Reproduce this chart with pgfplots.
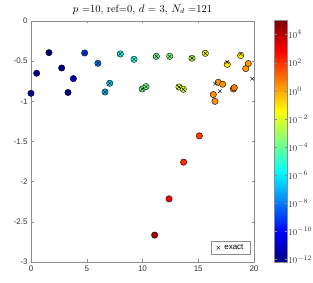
\documentclass[border=0pt]{standalone}
\usepackage{fontspec}
\usepackage{pgfplots}
\pgfplotsset{compat=1.18}
\usepackage{pgfplotstable}
\newfontfamily\hel{Liberation Sans}
\pgfplotstableread{
x y c
0 -0.90 -11
0.51 -0.65 -10.8
1.61 -0.394 -11.8
2.75 -0.585 -11.4
3.32 -0.89 -10.9
3.8 -0.717 -10
4.81 -0.398 -9
6.0 -0.527 -8
6.64 -0.883 -7
7.06 -0.775 -6.5
8.01 -0.41 -5.6
9.24 -0.477 -5.2
9.98 -0.846 -3.9
10.31 -0.817 -3.8
11.24 -0.44 -4
12.44 -0.44 -3.6
13.27 -0.821 -2.0
13.66 -0.85 -2.0
14.44 -0.464 -2.6
15.63 -0.402 -1.6
17.6 -0.54 -1.0
18.8 -0.43 -1.3
19.26 -0.593 0.3
19.49 -0.53 0.3
16.8 -0.763 0.4
17.19 -0.787 0.4
18.15 -0.846 0.8
18.23 -0.83 0.8
16.35 -0.916 0.5
16.5 -1.0 0.5
15.1 -1.43 1.8
13.69 -1.757 2.2
12.38 -2.214 3.0
11.09 -2.665 4.3
}\approxdata
\pgfplotstableread{
x y
0 -0.90
0.51 -0.65
1.61 -0.394
2.75 -0.585
3.32 -0.89
3.8 -0.717
4.81 -0.398
6.0 -0.527
6.64 -0.883
7.06 -0.775
8.01 -0.41
9.24 -0.477
9.98 -0.846
10.31 -0.817
11.24 -0.44
12.44 -0.44
13.27 -0.821
13.66 -0.85
14.44 -0.464
15.63 -0.402
17.6 -0.51
18.8 -0.41
16.5 -0.78
16.95 -0.875
19.85 -0.72
}\exactdata
\begin{document}
\begin{tikzpicture}
\path[use as bounding box] (-31pt,-21pt) rectangle (282pt,262pt);
\begin{axis}[
  scale only axis,
  width=223pt, height=241pt,
  at={(0pt,0pt)}, anchor=south west,
  xmin=0, xmax=20, ymin=-3, ymax=0,
  xtick={0,5,10,15,20},
  ytick={-3,-2.5,-2,-1.5,-1,-0.5,0},
  yticklabels={-3,-2.5,-2,-1.5,-1,-0.5,0},
  xticklabels={0,5,10,15,20},
  tick align=inside,
  major tick length=2.5pt,
  axis line style={draw=black!45},
  every tick/.style={black!45},
  tick label style={font=\hel\fontsize{8}{9}\selectfont, text=black!80},
  title={$p$ =10, ref=0, $d$ = 3, $N_d$ =121},
  title style={font=\fontsize{10.5}{12}\selectfont, yshift=-3pt},
  colormap/jet,
  point meta min=-12.2, point meta max=5,
  colorbar,
  colorbar style={
    scale only axis,
    width=13.3pt, height=242pt,
    at={(parent axis.north east)}, anchor=north west, xshift=11.7pt, yshift=0.5pt,
    ytick={-12,-10,-8,-6,-4,-2,0,2,4},
    yticklabels={$10^{-12}$,$10^{-10}$,$10^{-8}$,$10^{-6}$,$10^{-4}$,$10^{-2}$,$10^{0}$,$10^{2}$,$10^{4}$},
    yticklabel style={font=\fontsize{9.5}{11}\selectfont, text=black!80, xshift=-3pt},
    axis line style={draw=black!45},
    major tick length=2.5pt,
  },
  legend style={at={(0.985,0.03)}, anchor=south east, draw=black!45,
    font=\hel\fontsize{8}{9}\selectfont, inner xsep=5pt, inner ysep=1.5pt, row sep=0pt},
  legend cell align=left,
]
\addplot[scatter, only marks, mark=*, mark size=3.2pt,
  scatter/use mapped color={draw=black, fill=mapped color},
  point meta=explicit, forget plot] table[x=x, y=y, meta=c] {\approxdata};
\addplot[only marks, mark=x, mark size=2.5pt, black, line width=0.4pt] table[x=x, y=y] {\exactdata};
\addlegendentry{\ exact}
\end{axis}
\end{tikzpicture}
\end{document}
